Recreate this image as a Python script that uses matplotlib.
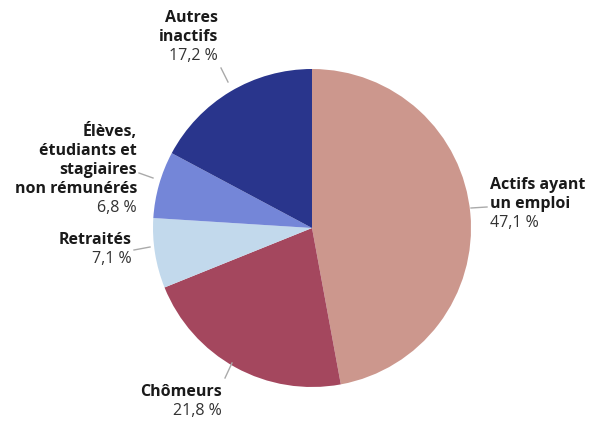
import matplotlib
matplotlib.use("Agg")
import matplotlib.pyplot as plt

categories = ["Actifs ayant\nun emploi", "Chômeurs", "Retraités",
              "Élèves,\nétudiants et\nstagiaires\nnon rémunérés", "Autres\ninactifs"]
values = [47.1, 21.8, 7.1, 6.8, 17.2]
pct_labels = ["47,1 %", "21,8 %", "7,1 %", "6,8 %", "17,2 %"]
colors = ["#cc978d", "#a4475e", "#c2d9ec", "#7486d8", "#29358c"]

W, H = 590, 421
fig = plt.figure(figsize=(W / 100, H / 100), dpi=100)
ax = fig.add_axes([0, 0, 1, 1])

cx, cy, r = 312, H - 228, 159
ax.pie(values, colors=colors, startangle=90, counterclock=False,
       center=(cx, cy), radius=r, frame=True,
       wedgeprops=dict(linewidth=0))
ax.set_xlim(0, W)
ax.set_ylim(0, H)
ax.set_aspect("equal")
ax.axis("off")

font = "Open Sans"
fs = 11.5
lh = 19

# label specs: (x, y of first line centre in pixels from top, ha)
specs = [
    (490, 185, "left"),
    (222, 392, "right"),
    (132, 240, "right"),
    (137, 132, "right"),
    (218, 18, "right"),
]
leaders = [
    ((471, 208), (487, 207)),
    ((232, 363), (225, 378)),
    ((150, 247), (134, 250)),
    ((153, 178), (139, 173)),
    ((228, 82), (221, 68)),
]

for cat, pct, (x, y, ha) in zip(categories, pct_labels, specs):
    lines = cat.split("\n")
    for i, ln in enumerate(lines):
        ax.text(x, H - (y + i * lh), ln, ha=ha, va="center", fontsize=fs,
                fontweight="bold", family=font, color="#1a1a1a")
    ax.text(x, H - (y + len(lines) * lh), pct, ha=ha, va="center", fontsize=fs,
            family=font, color="#333333")

for (x0, y0), (x1, y1) in leaders:
    ax.plot([x0, x1], [H - y0, H - y1], color="#aaaaaa", lw=1)

fig.savefig("out.png", dpi=100)
